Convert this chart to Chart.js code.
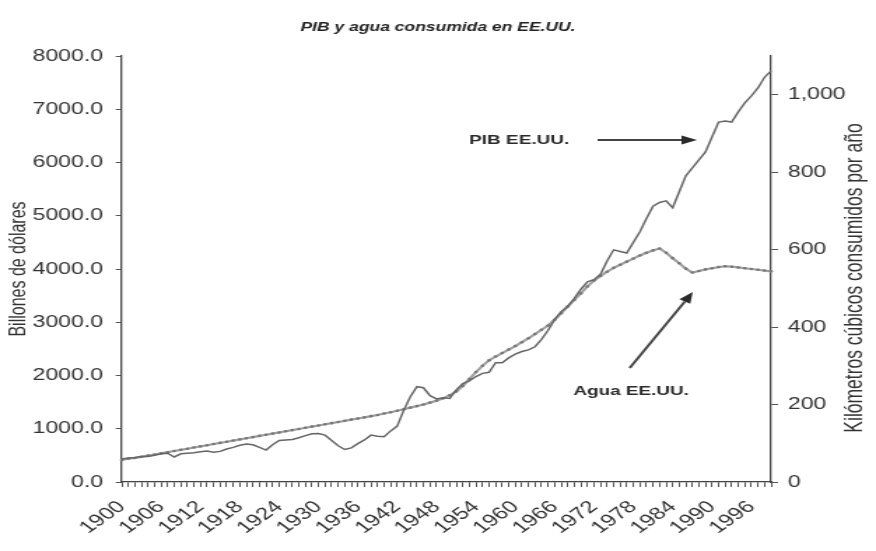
<!DOCTYPE html>
<html lang="es">
<head>
<meta charset="utf-8">
<title>PIB y agua consumida en EE.UU.</title>
<script src="https://cdn.jsdelivr.net/npm/chart.js@4.4.1/dist/chart.umd.min.js"></script>
<style>
  html, body { margin: 0; padding: 0; background: #fff; }
</style>
</head>
<body>
<!-- the scanned original is stretched sideways, so the canvas is drawn narrow and widened by its style -->
<canvas id="chart" width="626" height="551" style="display:block;width:876px;height:551px"></canvas>
<script>
const firstYear = 1900;
const lastYear = 1999;
const years = [];
for (let y = firstYear; y <= lastYear; y++) years.push(y);

const shownYears = [1900, 1906, 1912, 1918, 1924, 1930, 1936, 1942, 1948,
                    1954, 1960, 1966, 1972, 1978, 1984, 1990, 1996];

// PIB EE.UU., billones de dólares (eje izquierdo)
const pib = [
  430, 450, 460, 480, 480, 500, 530, 540, 470, 530,
  540, 550, 570, 580, 560, 575, 620, 650, 690, 715,
  700, 650, 600, 700, 780, 790, 800, 830, 870, 905,
  910, 880, 780, 680, 610, 640, 720, 790, 880, 860,
  850, 960, 1050, 1350, 1600, 1790, 1770, 1620, 1560, 1580,
  1570, 1730, 1850, 1900, 1980, 2040, 2060, 2240, 2240, 2330,
  2400, 2450, 2480, 2540, 2680, 2850, 3050, 3200, 3300, 3450,
  3620, 3760, 3800, 3900, 4150, 4360, 4330, 4300, 4500, 4700,
  4950, 5180, 5250, 5280, 5150, 5450, 5750, 5900, 6050, 6200,
  6480, 6760, 6780, 6760, 6950, 7120, 7250, 7400, 7600, 7720
];

// Agua EE.UU., km3 consumidos por año (eje derecho)
const agua = [
  57, 60, 62, 65, 68, 71, 74, 77, 80, 83,
  86, 89, 92, 95, 98, 101, 104, 107, 110, 113,
  116, 119, 122, 125, 128, 131, 134, 137, 140, 143,
  146, 149, 152, 155, 158, 161, 164, 167, 170, 173,
  177, 180, 184, 188, 192, 196, 200, 205, 210, 216,
  224, 234, 248, 266, 284, 300, 314, 324, 333, 342,
  351, 361, 371, 382, 393, 404, 419, 436, 453, 470,
  487, 505, 520, 532, 543, 553, 561, 569, 577, 585,
  592, 598, 603, 592, 578, 565, 551, 541, 545, 549,
  552, 555, 557, 556, 554, 552, 550, 548, 546, 544
];

const FONT = '"Liberation Sans", Arial, sans-serif';
const INK = '#333';

function arrow(ctx, x1, y1, x2, y2) {
  const a = Math.atan2(y2 - y1, x2 - x1);
  const len = 11, half = 4.5;
  const bx = x2 - len * Math.cos(a), by = y2 - len * Math.sin(a);
  ctx.lineWidth = 2;
  ctx.beginPath();
  ctx.moveTo(x1, y1);
  ctx.lineTo(bx, by);
  ctx.stroke();
  ctx.beginPath();
  ctx.moveTo(x2, y2);
  ctx.lineTo(bx + half * Math.sin(a), by - half * Math.cos(a));
  ctx.lineTo(bx - half * Math.sin(a), by + half * Math.cos(a));
  ctx.closePath();
  ctx.fill();
}

// labels with arrows, and the right axis title (reads bottom to top)
const notes = {
  id: 'notes',
  afterDraw(chart) {
    const ctx = chart.ctx;
    ctx.save();
    ctx.fillStyle = '#2a2a2a';
    ctx.strokeStyle = '#444';
    ctx.font = 'bold 13.5px ' + FONT;
    ctx.textAlign = 'center';
    ctx.textBaseline = 'middle';
    ctx.fillText('PIB EE.UU.', 371, 140);
    ctx.fillText('Agua EE.UU.', 451, 391);
    arrow(ctx, 427, 140, 498, 140);
    arrow(ctx, 450, 368, 495, 292);

    ctx.fillStyle = INK;
    ctx.font = '17.5px ' + FONT;
    ctx.translate(611, 278);
    ctx.rotate(-Math.PI / 2);
    ctx.fillText('Kilómetros cúbicos consumidos por año', 0, 0);
    ctx.restore();
  }
};

const ctx = document.getElementById('chart').getContext('2d');
new Chart(ctx, {
  type: 'line',
  data: {
    labels: years,
    datasets: [
      {
        label: 'PIB EE.UU.',
        data: pib,
        yAxisID: 'y',
        borderColor: '#666',
        borderWidth: 1.5,
        pointRadius: 0,
        tension: 0,
        order: 1
      },
      {
        label: 'Agua EE.UU.',
        data: agua,
        yAxisID: 'y1',
        borderColor: '#a0a0a0',
        borderWidth: 2.2,
        pointRadius: 1.3,
        pointBorderWidth: 0,
        pointBackgroundColor: '#777',
        tension: 0,
        order: 2
      }
    ]
  },
  options: {
    responsive: false,
    animation: false,
    layout: { padding: 0 },
    plugins: {
      legend: { display: false },
      tooltip: { enabled: false },
      title: {
        display: true,
        text: 'PIB y agua consumida en EE.UU.',
        color: '#222',
        font: { family: FONT, size: 12.5, weight: 'bold', style: 'italic' },
        padding: { top: 20, bottom: 21 }
      }
    },
    scales: {
      x: {
        offset: false,
        grid: { display: true, drawOnChartArea: false, tickLength: 5, color: '#555' },
        border: { display: true, color: '#444', width: 1.3 },
        ticks: {
          autoSkip: false,
          minRotation: 44,
          maxRotation: 44,
          padding: 10,
          color: INK,
          font: { family: FONT, size: 17 },
          callback: function(value, index) {
            const yr = years[index];
            return shownYears.includes(yr) ? String(yr) : '';
          }
        },
        afterFit: s => { s.height = 69; }
      },
      y: {
        position: 'left',
        min: 0,
        max: 8000,
        grid: { drawOnChartArea: false, tickLength: 4.3, color: '#555' },
        border: { display: true, color: '#444', width: 1.3 },
        ticks: {
          stepSize: 1000,
          padding: 9,
          color: INK,
          font: { family: FONT, size: 16.5 },
          callback: v => v.toFixed(1)
        },
        title: {
          display: true,
          text: 'Billones de dólares',
          color: INK,
          font: { family: FONT, size: 16 },
          padding: { top: 4, bottom: 0 }
        },
        afterFit: s => { s.width = 87; }
      },
      y1: {
        position: 'right',
        min: 0,
        max: 1100,
        grid: { drawOnChartArea: false, tickLength: 5, color: '#555' },
        border: { display: true, color: '#444', width: 1.3 },
        ticks: {
          stepSize: 200,
          padding: 7,
          color: INK,
          font: { family: FONT, size: 16.5 },
          callback: v => v.toLocaleString('en-US')
        },
        afterBuildTicks: s => { s.ticks = s.ticks.filter(t => t.value <= 1000); },
        afterFit: s => { s.width = 75; }
      }
    }
  },
  plugins: [notes]
});
</script>
</body>
</html>
